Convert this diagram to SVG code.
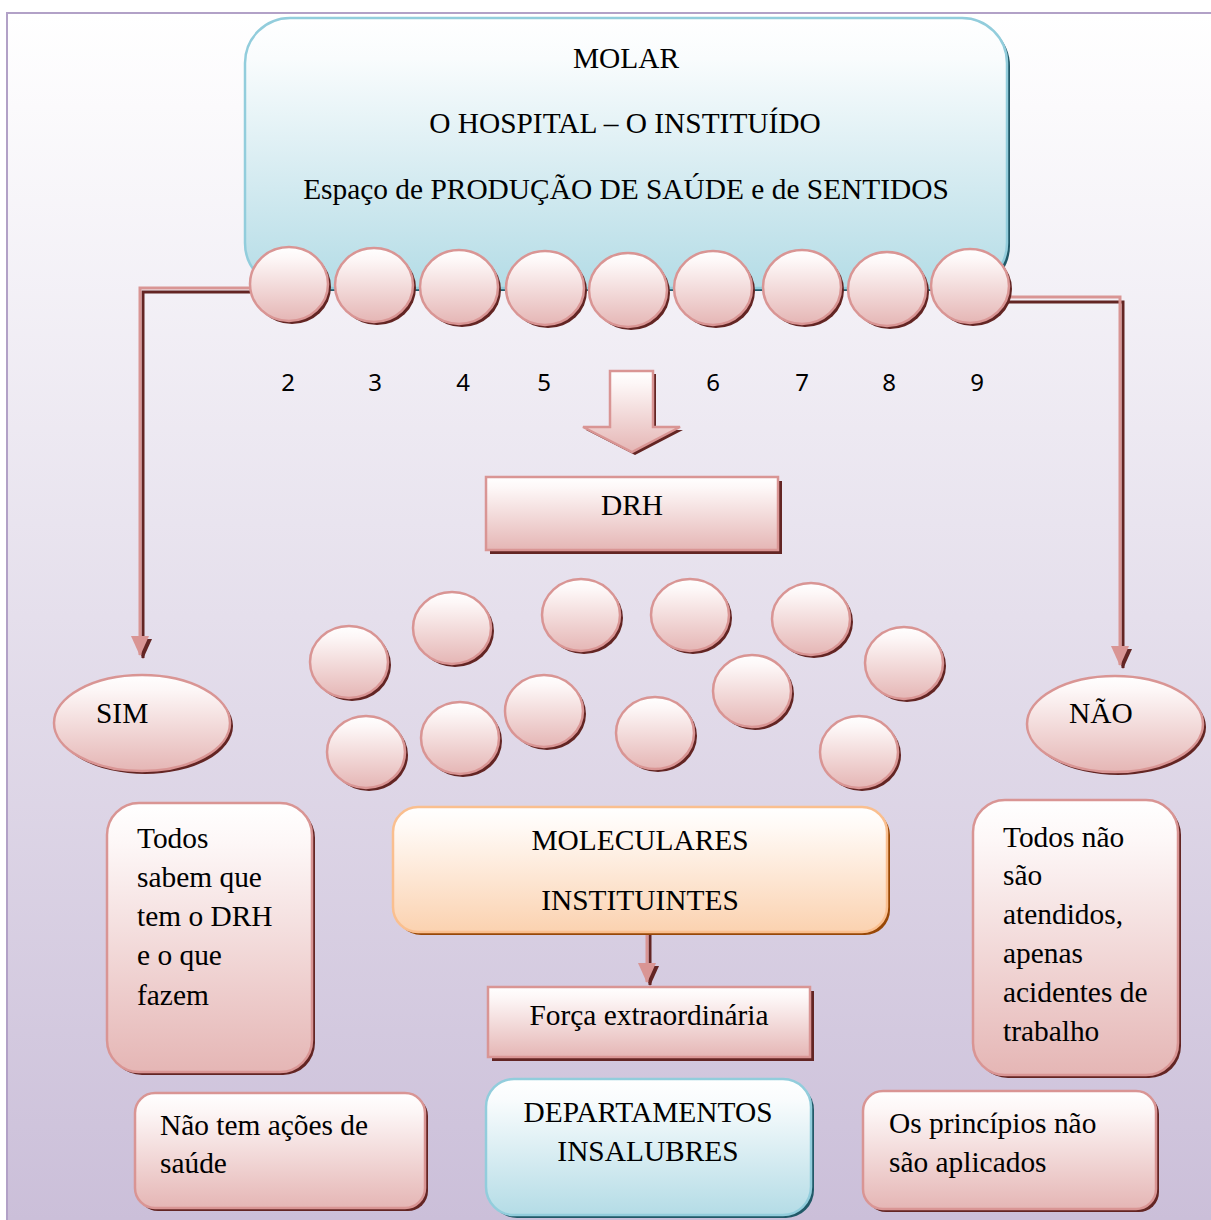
<svg xmlns="http://www.w3.org/2000/svg" width="1211" height="1220" viewBox="0 0 1211 1220">
<defs>
<linearGradient id="bg" gradientUnits="userSpaceOnUse" x1="0" y1="13" x2="0" y2="1220">
<stop offset="0" stop-color="#ffffff"/><stop offset="1" stop-color="#cbbfd9"/>
</linearGradient>
<linearGradient id="gPink" x1="0" y1="0" x2="0" y2="1">
<stop offset="0" stop-color="#ffffff"/><stop offset="0.15" stop-color="#fdf7f7"/><stop offset="1" stop-color="#e5b6b5"/>
</linearGradient>
<linearGradient id="gBlue" x1="0" y1="0" x2="0" y2="1">
<stop offset="0" stop-color="#ffffff"/><stop offset="0.15" stop-color="#f9fcfd"/><stop offset="1" stop-color="#b4dce6"/>
</linearGradient>
<linearGradient id="gOrange" x1="0" y1="0" x2="0" y2="1">
<stop offset="0" stop-color="#ffffff"/><stop offset="0.15" stop-color="#fffaf6"/><stop offset="1" stop-color="#fbd2b0"/>
</linearGradient>
<marker id="ahPink" markerUnits="userSpaceOnUse" markerWidth="20" markerHeight="18" refX="19" refY="9" orient="auto">
<path d="M0,0 L20,9 L0,18 z" fill="#d99594"/>
</marker>
<marker id="ahDark" markerUnits="userSpaceOnUse" markerWidth="20" markerHeight="18" refX="19" refY="9" orient="auto">
<path d="M0,0 L20,9 L0,18 z" fill="#632523"/>
</marker>
<style>
.pink{fill:url(#gPink);stroke:#d99594;stroke-width:2.5}
.blue{fill:url(#gBlue);stroke:#92cddc;stroke-width:2.5}
.orange{fill:url(#gOrange);stroke:#fabf8f;stroke-width:2.5}
.shP{fill:#632523}
.shB{fill:#215968}
.shO{fill:#984807}
.t{font-family:"Liberation Serif","Times New Roman",serif;font-size:29.4px;fill:#000}
.c{text-anchor:middle}
.n{font-family:"Noto Sans","Open Sans",sans-serif;font-size:24px;fill:#000;text-anchor:middle}
.lp{fill:none;stroke:#d99594;stroke-width:3}
.ld{fill:none;stroke:#632523;stroke-width:3}
</style>
</defs>
<rect x="0" y="0" width="1211" height="1220" fill="#ffffff"/>
<rect x="7" y="13" width="1230" height="1230" fill="url(#bg)" stroke="#b2a1c7" stroke-width="2"/>

<g id="molar">
<rect class="shB" x="248" y="21" width="762" height="270" rx="45"/>
<rect class="blue" x="245" y="18" width="762" height="270" rx="45"/>
<text class="t c" x="626" y="68">MOLAR</text>
<text class="t c" x="625" y="133">O HOSPITAL – O INSTITUÍDO</text>
<text class="t c" x="626" y="199">Espaço de PRODUÇÃO DE SAÚDE e de SENTIDOS</text>
</g>

<g id="connectors">
<path class="ld" d="M250 292 H143 V658" marker-end="url(#ahDark)"/>
<path class="lp" d="M250 288 H140 V655" marker-end="url(#ahPink)"/>
<path class="ld" d="M1008 302 H1123 V668" marker-end="url(#ahDark)"/>
<path class="lp" d="M1008 297 H1120 V665" marker-end="url(#ahPink)"/>
<path class="ld" d="M650 921 V985" marker-end="url(#ahDark)"/>
<path class="lp" d="M647 918 V982" marker-end="url(#ahPink)"/>
<g id="bigArrow">
<polygon class="shP" points="613,374 656,374 656,430 683,430 635,455 586,430 613,430"/>
<polygon class="pink" points="610,371 653,371 653,427 680,427 632,452 583,427 610,427"/>
</g>
</g>

<g id="row">
<g id="r1"><ellipse class="shP" cx="292" cy="287" rx="39" ry="37"/><ellipse class="pink" cx="289" cy="284" rx="39" ry="37"/></g>
<g id="r2"><ellipse class="shP" cx="377" cy="288" rx="39" ry="37"/><ellipse class="pink" cx="374" cy="285" rx="39" ry="37"/></g>
<g id="r3"><ellipse class="shP" cx="462" cy="290" rx="39" ry="37"/><ellipse class="pink" cx="459" cy="287" rx="39" ry="37"/></g>
<g id="r4"><ellipse class="shP" cx="548" cy="291" rx="39" ry="37"/><ellipse class="pink" cx="545" cy="288" rx="39" ry="37"/></g>
<g id="r5"><ellipse class="shP" cx="631" cy="293" rx="39" ry="37"/><ellipse class="pink" cx="628" cy="290" rx="39" ry="37"/></g>
<g id="r6"><ellipse class="shP" cx="716" cy="291" rx="39" ry="37"/><ellipse class="pink" cx="713" cy="288" rx="39" ry="37"/></g>
<g id="r7"><ellipse class="shP" cx="805" cy="290" rx="39" ry="37"/><ellipse class="pink" cx="802" cy="287" rx="39" ry="37"/></g>
<g id="r8"><ellipse class="shP" cx="890" cy="292" rx="39" ry="37"/><ellipse class="pink" cx="887" cy="289" rx="39" ry="37"/></g>
<g id="r9"><ellipse class="shP" cx="973" cy="289" rx="39" ry="37"/><ellipse class="pink" cx="970" cy="286" rx="39" ry="37"/></g>
</g>

<g id="numbers">
<text class="n" x="288" y="391">2</text>
<text class="n" x="375" y="391">3</text>
<text class="n" x="463" y="391">4</text>
<text class="n" x="544" y="391">5</text>
<text class="n" x="713" y="391">6</text>
<text class="n" x="802" y="391">7</text>
<text class="n" x="889" y="391">8</text>
<text class="n" x="977" y="391">9</text>
</g>

<g id="drh">
<rect class="shP" x="490" y="481" width="292" height="73"/>
<rect class="pink" x="486" y="477" width="292" height="73"/>
<text class="t c" x="632" y="515">DRH</text>
</g>

<g id="molecules">
<g id="m1"><ellipse class="shP" cx="352" cy="665" rx="39" ry="36"/><ellipse class="pink" cx="349" cy="662" rx="39" ry="36"/></g>
<g id="m2"><ellipse class="shP" cx="455" cy="631" rx="39" ry="36"/><ellipse class="pink" cx="452" cy="628" rx="39" ry="36"/></g>
<g id="m3"><ellipse class="shP" cx="584" cy="618" rx="39" ry="36"/><ellipse class="pink" cx="581" cy="615" rx="39" ry="36"/></g>
<g id="m4"><ellipse class="shP" cx="693" cy="618" rx="39" ry="36"/><ellipse class="pink" cx="690" cy="615" rx="39" ry="36"/></g>
<g id="m5"><ellipse class="shP" cx="814" cy="622" rx="39" ry="36"/><ellipse class="pink" cx="811" cy="619" rx="39" ry="36"/></g>
<g id="m6"><ellipse class="shP" cx="907" cy="666" rx="39" ry="36"/><ellipse class="pink" cx="904" cy="663" rx="39" ry="36"/></g>
<g id="m7"><ellipse class="shP" cx="369" cy="755" rx="39" ry="36"/><ellipse class="pink" cx="366" cy="752" rx="39" ry="36"/></g>
<g id="m8"><ellipse class="shP" cx="463" cy="741" rx="39" ry="36"/><ellipse class="pink" cx="460" cy="738" rx="39" ry="36"/></g>
<g id="m9"><ellipse class="shP" cx="547" cy="714" rx="39" ry="36"/><ellipse class="pink" cx="544" cy="711" rx="39" ry="36"/></g>
<g id="m10"><ellipse class="shP" cx="658" cy="736" rx="39" ry="36"/><ellipse class="pink" cx="655" cy="733" rx="39" ry="36"/></g>
<g id="m11"><ellipse class="shP" cx="755" cy="694" rx="39" ry="36"/><ellipse class="pink" cx="752" cy="691" rx="39" ry="36"/></g>
<g id="m12"><ellipse class="shP" cx="862" cy="755" rx="39" ry="36"/><ellipse class="pink" cx="859" cy="752" rx="39" ry="36"/></g>
</g>

<g id="sim">
<ellipse class="shP" cx="145" cy="726" rx="88" ry="48"/>
<ellipse class="pink" cx="142" cy="723" rx="88" ry="48"/>
<text class="t" x="96" y="723">SIM</text>
</g>

<g id="nao">
<ellipse class="shP" cx="1118" cy="727" rx="88" ry="48"/>
<ellipse class="pink" cx="1115" cy="724" rx="88" ry="48"/>
<text class="t" x="1069" y="723">NÃO</text>
</g>

<g id="todosSabem">
<rect class="shP" x="110" y="806" width="205" height="269" rx="32"/>
<rect class="pink" x="107" y="803" width="205" height="269" rx="32"/>
<text class="t" x="137" y="848">Todos</text>
<text class="t" x="137" y="887">sabem que</text>
<text class="t" x="137" y="926">tem o DRH</text>
<text class="t" x="137" y="965">e o que</text>
<text class="t" x="137" y="1005">fazem</text>
</g>

<g id="todosNao">
<rect class="shP" x="976" y="803" width="205" height="275" rx="32"/>
<rect class="pink" x="973" y="800" width="205" height="275" rx="32"/>
<text class="t" x="1003" y="847">Todos não</text>
<text class="t" x="1003" y="885">são</text>
<text class="t" x="1003" y="924">atendidos,</text>
<text class="t" x="1003" y="963">apenas</text>
<text class="t" x="1003" y="1002">acidentes de</text>
<text class="t" x="1003" y="1041">trabalho</text>
</g>

<g id="moleculares">
<rect class="shO" x="396" y="810" width="494" height="125" rx="25"/>
<rect class="orange" x="393" y="807" width="494" height="125" rx="25"/>
<text class="t c" x="640" y="850">MOLECULARES</text>
<text class="t c" x="640" y="910">INSTITUINTES</text>
</g>

<g id="forca">
<rect class="shP" x="492" y="991" width="322" height="70"/>
<rect class="pink" x="488" y="987" width="322" height="70"/>
<text class="t c" x="649" y="1025">Força extraordinária</text>
</g>

<g id="departamentos">
<rect class="shB" x="489" y="1082" width="325" height="136" rx="28"/>
<rect class="blue" x="486" y="1079" width="325" height="136" rx="28"/>
<text class="t c" x="648" y="1122">DEPARTAMENTOS</text>
<text class="t c" x="648" y="1161">INSALUBRES</text>
</g>

<g id="naoTem">
<rect class="shP" x="138" y="1096" width="290" height="115" rx="20"/>
<rect class="pink" x="135" y="1093" width="290" height="115" rx="20"/>
<text class="t" x="160" y="1135">Não tem ações de</text>
<text class="t" x="160" y="1173">saúde</text>
</g>

<g id="principios">
<rect class="shP" x="866" y="1094" width="293" height="118" rx="20"/>
<rect class="pink" x="863" y="1091" width="293" height="118" rx="20"/>
<text class="t" x="889" y="1133">Os princípios não</text>
<text class="t" x="889" y="1172">são aplicados</text>
</g>
</svg>
